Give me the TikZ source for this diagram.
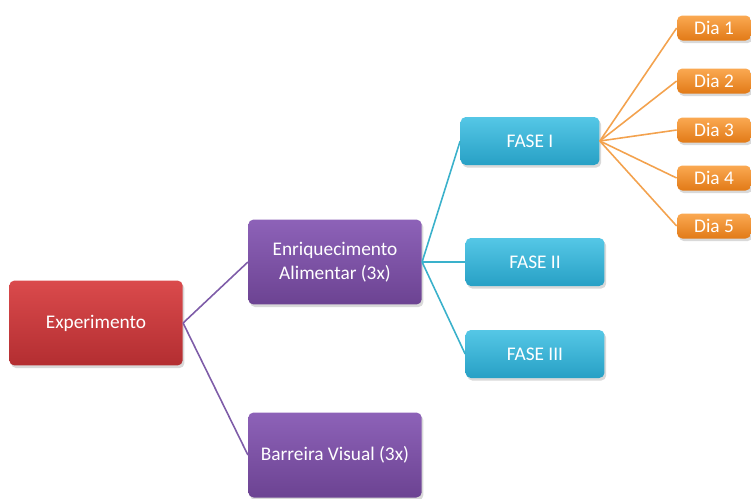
\documentclass[tikz,border=0pt]{standalone}
\usepackage{fontspec}
\setmainfont{Carlito}
\usetikzlibrary{shadows}

\definecolor{redtop}{HTML}{DA4A4C}
\definecolor{redbot}{HTML}{B32E31}
\definecolor{purtop}{HTML}{8D62B8}
\definecolor{purbot}{HTML}{6C4392}
\definecolor{teatop}{HTML}{55C7E6}
\definecolor{teabot}{HTML}{27A0C5}
\definecolor{ortop}{HTML}{FAA952}
\definecolor{orbot}{HTML}{E27A17}
\definecolor{purline}{HTML}{7E5CA8}
\definecolor{tealine}{HTML}{3AB1CB}
\definecolor{orline}{HTML}{F3A24E}

\begin{document}
\begin{tikzpicture}[x=0.02cm, y=-0.02cm,
    every node/.style={font=\fontsize{11}{14}\selectfont, text=white, align=center},
    box/.style={rounded corners=3pt, inner sep=0pt,
        drop shadow={opacity=0.3, shadow xshift=1pt, shadow yshift=-1.5pt}},
    bigbox/.style={box, minimum width=3.47cm, minimum height=1.7cm},
    redbox/.style={bigbox, top color=redtop, bottom color=redbot},
    purbox/.style={bigbox, top color=purtop, bottom color=purbot},
    fasebox/.style={box, minimum width=2.78cm, minimum height=0.96cm, top color=teatop, bottom color=teabot},
    diabox/.style={box, minimum width=1.48cm, minimum height=0.5cm, top color=ortop, bottom color=orbot},
    link/.style={line width=0.9pt}]
    \useasboundingbox (0,0) rectangle (751,498);

    % Main boxes
    \node[redbox] (exp) at (96,323) {Experimento};
    \node[purbox] (enr) at (335,262) {Enriquecimento\\Alimentar (3x)};
    \node[purbox] (bar) at (335,455) {Barreira Visual (3x)};

    % Phases
    \node[fasebox] (f1) at (530,141) {FASE I};
    \node[fasebox] (f2) at (535,262) {FASE II};
    \node[fasebox] (f3) at (535,354) {FASE III};

    % Days
    \foreach \d/\y in {1/28, 2/81, 3/130, 4/178, 5/226}
        \node[diabox] (dia\d) at (714,\y) {Dia \d};

    % Connectors
    \draw[link, purline] (exp.east) -- (enr.west);
    \draw[link, purline] (exp.east) -- (bar.west);
    \foreach \f in {f1,f2,f3}
        \draw[link, tealine] (enr.east) -- (\f.west);
    \foreach \d in {1,...,5}
        \draw[link, orline] (f1.east) -- (dia\d.west);
\end{tikzpicture}
\end{document}
